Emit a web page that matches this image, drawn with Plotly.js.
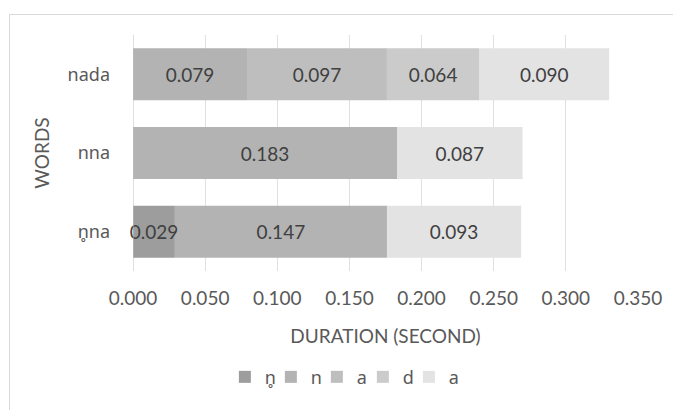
<!DOCTYPE html>
<html>
<head>
<meta charset="utf-8">
<script src="https://cdn.plot.ly/plotly-3.0.1.min.js"></script>
<style>
html,body{margin:0;padding:0;background:#fff;}
#wrap{position:relative;width:673px;height:410px;overflow:hidden;}
#frame{position:absolute;left:9px;top:14px;width:700px;height:430px;border-left:1.5px solid #d9d9d9;border-top:1.5px solid #d9d9d9;box-sizing:border-box;pointer-events:none;}
#chart{position:absolute;left:0;top:0;width:673px;height:410px;}
</style>
</head>
<body>
<div id="wrap"><div id="chart"></div><div id="frame"></div></div>
<script>
const words = ["n\u0325na", "nna", "nada"];
const seriesNames = ["n\u0325", "n", "a", "d", "a"];
const s_nRing = [0.029, null, null];
const s_n = [0.147, 0.183, 0.079];
const s_a1 = [null, null, 0.097];
const s_d = [null, null, 0.064];
const s_a2 = [0.093, 0.087, 0.090];
const xTicks = [0, 0.05, 0.1, 0.15, 0.2, 0.25, 0.3, 0.35];
const xTickLabels = ["0.000", "0.050", "0.100", "0.150", "0.200", "0.250", "0.300", "0.350"];

const colors = ["#9d9d9d", "#b3b3b3", "#bebebe", "#cbcbcb", "#e3e3e3"];
const seriesVals = [s_nRing, s_n, s_a1, s_d, s_a2];
const FONT = "Lato, 'Open Sans', sans-serif";
const FONT2 = "'Noto Sans', 'Open Sans', sans-serif";

// stacking bases computed from the series (segments placed end to end)
const bases = [];
let running = words.map(() => 0);
seriesVals.forEach(vals => {
  bases.push(running.slice());
  running = running.map((r, j) => r + (vals[j] || 0));
});

const traces = seriesVals.map((vals, i) => ({
  type: "bar",
  orientation: "h",
  name: seriesNames[i],
  y: words,
  x: vals,
  base: bases[i],
  marker: {color: colors[i], line: {width: 0}},
  texttemplate: "%{x:.3f}",
  textposition: "inside",
  insidetextanchor: "middle",
  textangle: 0,
  constraintext: "none",
  cliponaxis: false,
  textfont: {family: FONT, size: 19, color: "#404040"},
  hoverinfo: "none"
})).reverse(); // draw the first segment last so its label stays visible

const layout = {
  width: 673, height: 410,
  margin: {l: 133, r: 35, t: 35, b: 139},
  barmode: "overlay",
  bargap: 0.34,
  paper_bgcolor: "#ffffff",
  plot_bgcolor: "#ffffff",
  font: {family: FONT, size: 19, color: "#595959"},
  uniformtext: {minsize: 19, mode: "show"},
  showlegend: true,
  legend: {
    orientation: "h", x: 0.505, xref: "container", xanchor: "center",
    y: 0.035, yref: "container", yanchor: "bottom",
    font: {family: FONT2, size: 18, color: "#595959"},
    itemwidth: 30, entrywidth: 1, entrywidthmode: "pixels", traceorder: "reversed"
  },
  xaxis: {
    range: [0, 0.35],
    tickvals: xTicks, ticktext: xTickLabels,
    showgrid: true, gridcolor: "#e0e0e0", gridwidth: 1,
    zeroline: false, showline: false, ticks: "",
    ticklabelstandoff: 14,
    tickfont: {family: FONT, size: 19, color: "#595959"},
    title: {text: "DURATION (SECOND)", font: {family: FONT, size: 19, color: "#595959"}, standoff: 21},
    fixedrange: true
  },
  yaxis: {
    type: "category",
    categoryorder: "array", categoryarray: words,
    showgrid: false, zeroline: false,
    showline: false, ticks: "",
    ticklabelstandoff: 22,
    tickfont: {family: FONT2, size: 18, color: "#595959"},
    title: {text: "WORDS", font: {family: FONT, size: 19, color: "#595959"}, standoff: 12},
    fixedrange: true
  },
  shapes: [{
    type: "line", xref: "x", yref: "paper", x0: 0, x1: 0, y0: 0, y1: 1,
    line: {color: "#bfbfbf", width: 1}
  }]
};

Plotly.newPlot("chart", traces, layout, {displayModeBar: false, staticPlot: true}).then(gd => {
  // let the last legend label overflow its compact entry instead of being clipped
  gd.querySelectorAll(".legend .scrollbox, .legend").forEach(el => el.removeAttribute("clip-path"));
});
</script>
</body>
</html>
